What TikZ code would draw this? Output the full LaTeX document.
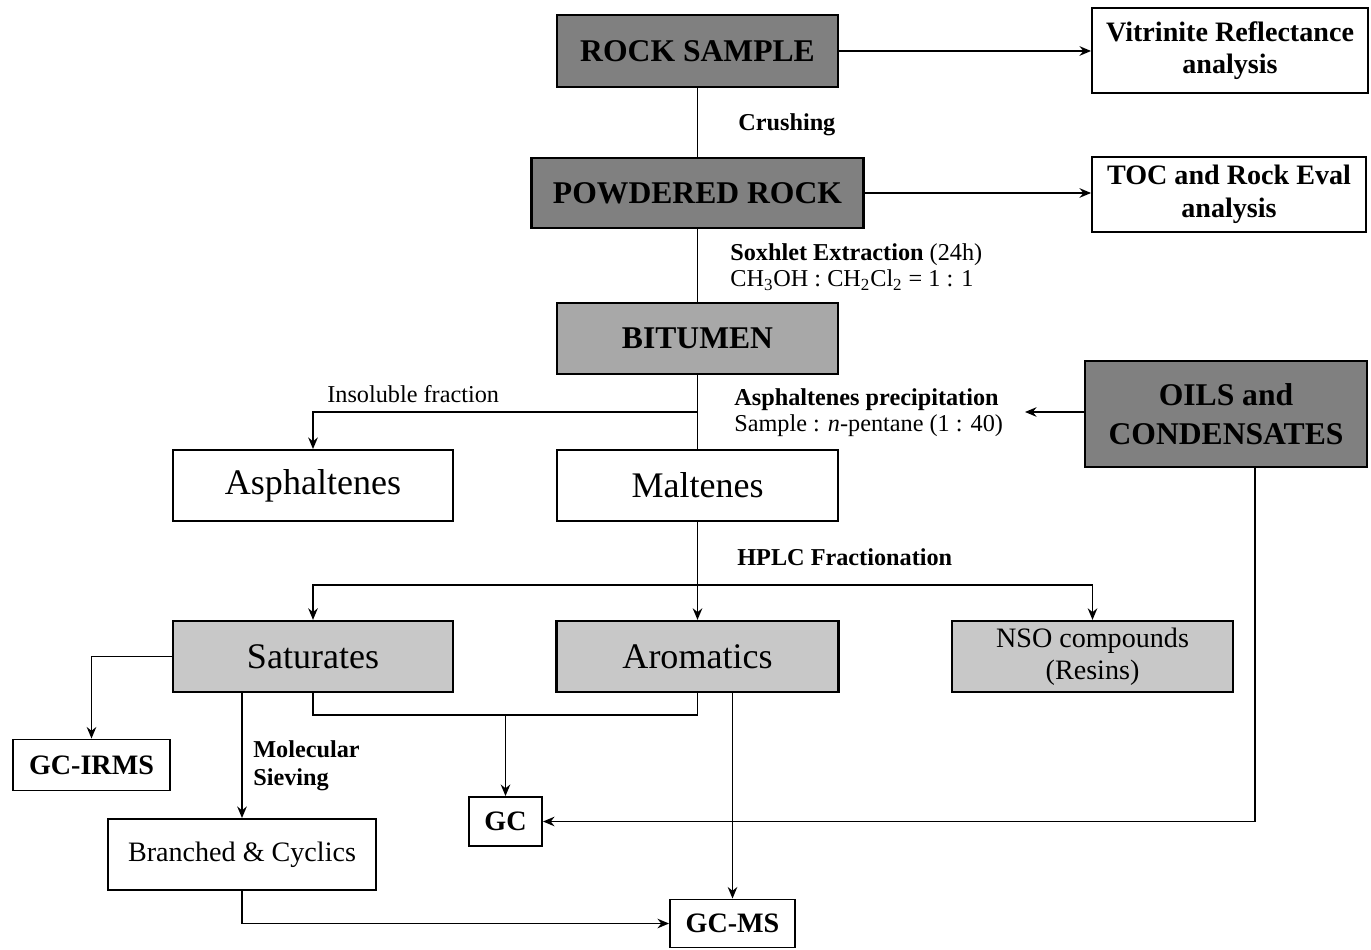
\documentclass[tikz,border=0pt]{standalone}
\usepackage{fontspec}
\setmainfont{Liberation Serif}
\usetikzlibrary{arrows.meta}

\definecolor{rockgray}{RGB}{128,128,128}
\definecolor{bitgray}{RGB}{168,168,168}
\definecolor{fracgray}{RGB}{200,200,200}

\tikzset{
  flow/.style={line width=1.1pt},
  arr/.style={flow, -{Stealth[length=2.3mm,width=1.9mm]}},
  box/.style={draw, line width=1.1pt, fill=white, align=center, inner sep=0pt},
  sample/.style={box, line width=1.6pt, fill=rockgray, font=\fontsize{18}{22}\selectfont\bfseries},
  bitbox/.style={sample, fill=bitgray},
  fracbox/.style={box, line width=1.3pt, fill=fracgray, font=\fontsize{20.5}{24}\selectfont},
  whitebox/.style={box, font=\fontsize{20.5}{24}\selectfont},
  analysis/.style={box, font=\fontsize{16}{18.5}\selectfont\bfseries},
  small/.style={box, font=\fontsize{16}{18.5}\selectfont},
  lbl/.style={inner sep=0pt, align=left, font=\fontsize{13.8}{15}\selectfont},
}

\begin{document}
\begin{tikzpicture}[x=0.02cm, y=-0.02cm]
  \useasboundingbox (0,0) rectangle (1371,949);

  % main line: rock -> bitumen
  \node[sample, minimum width=5.62cm, minimum height=1.44cm] (rock) at (697.5,51) {ROCK SAMPLE};
  \node[analysis, minimum width=5.52cm, minimum height=1.70cm] (vitr) at (1230,50.5) {Vitrinite Reflectance\\analysis};
  \node[sample, minimum width=6.64cm, minimum height=1.40cm] (powder) at (697.5,193) {POWDERED ROCK};
  \node[analysis, minimum width=5.48cm, minimum height=1.50cm] (toc) at (1229,194.5) {TOC and Rock Eval\\analysis};
  \node[bitbox, minimum width=5.62cm, minimum height=1.42cm] (bitumen) at (697.5,338.5) {BITUMEN};
  \node[sample, minimum width=5.64cm, minimum height=2.12cm, font=\fontsize{18}{22.5}\selectfont\bfseries] (oils) at (1226,414) {OILS and\\CONDENSATES};

  \node[whitebox, minimum width=5.6cm, minimum height=1.42cm] (asph) at (313,485.5) {Asphaltenes};
  \node[whitebox, minimum width=5.62cm, minimum height=1.42cm] (malt) at (697.5,485.5) {Maltenes};

  % fractions
  \node[fracbox, minimum width=5.6cm, minimum height=1.42cm] (sat) at (313,656.5) {Saturates};
  \node[fracbox, minimum width=5.64cm, minimum height=1.42cm] (arom) at (697.5,656.5) {Aromatics};
  \node[fracbox, minimum width=5.62cm, minimum height=1.42cm, font=\fontsize{16}{18.5}\selectfont] (nso) at (1092.5,656.5) {NSO compounds\\(Resins)};

  \node[analysis, minimum width=3.14cm, minimum height=1.02cm] (gcirms) at (91.5,765) {GC-IRMS};
  \node[small, minimum width=5.36cm, minimum height=1.42cm] (branch) at (242,854.5) {Branched \& Cyclics};
  \node[analysis, minimum width=1.46cm, minimum height=0.98cm] (gc) at (505.5,821.5) {GC};
  \node[analysis, minimum width=2.5cm, minimum height=0.96cm] (gcms) at (732.5,923.5) {GC-MS};

  % labels
  \node[lbl, anchor=west, font=\fontsize{13.8}{15}\selectfont\bfseries] (crushlbl) at (738,125) {Crushing};
  \node[lbl, anchor=north west] (soxlbl) at (730,243) {\textbf{Soxhlet Extraction} (24h)\\CH\textsubscript{3}OH : CH\textsubscript{2}Cl\textsubscript{2} = 1 : 1};
  \node[lbl, anchor=west] (insollbl) at (327,394) {Insoluble fraction};
  \node[lbl, anchor=north west] (preclbl) at (734,388) {\textbf{Asphaltenes precipitation}\\Sample : \textit{n}-pentane (1 : 40)};
  \node[lbl, anchor=west, font=\fontsize{13.8}{15}\selectfont\bfseries] (hplclbl) at (737,557) {HPLC Fractionation};
  \node[lbl, anchor=north west, font=\fontsize{13.8}{16}\selectfont\bfseries] (sievelbl) at (253,740) {Molecular\\Sieving};

  \coordinate (insol) at (697.5,412);
  \coordinate (precip) at (1025,412);
  \coordinate (hplc) at (697.5,585);
  \coordinate (gcjoin) at (505.5,715);
  \coordinate (oilsx) at (1255,0);

  % connectors
  \draw[arr] (rock.east) -- (rock.east -| vitr.west);
  \draw[flow] (rock.south) -- (powder.north);
  \draw[arr] (powder.east) -- (powder.east -| toc.west);
  \draw[flow] (powder.south) -- (bitumen.north);
  \draw[flow] (bitumen.south) -- (malt.north);
  \draw[arr] (insol) -| (asph.north);
  \draw[arr] (oils.west |- precip) -- (precip);
  \draw[arr] (malt.south) -- (arom.north);
  \draw[arr] (hplc) -| (sat.north);
  \draw[arr] (hplc) -| (nso.north);
  \draw[arr] (sat.west) -| (gcirms.north);
  \draw[arr] (sat.south -| branch.north) -- (branch.north);
  \draw[flow] (sat.south) |- (gcjoin) -| (arom.south);
  \draw[arr] (gcjoin) -- (gc.north);
  \draw[arr] (arom.south -| gcms.north) -- (gcms.north);
  \draw[arr] (branch.south) |- (gcms.west);
  \draw[arr] (oils.south -| oilsx) |- (gc.east);
\end{tikzpicture}
\end{document}
